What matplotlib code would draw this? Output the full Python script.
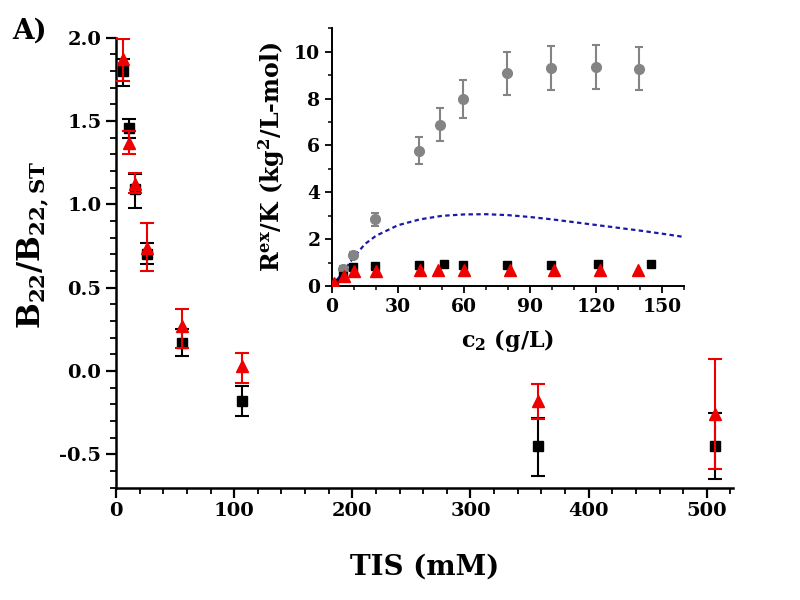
import matplotlib
matplotlib.use('Agg')
import matplotlib.pyplot as plt
from matplotlib.ticker import MultipleLocator

plt.rcParams['font.family'] = 'DejaVu Serif'
plt.rcParams['font.weight'] = 'bold'
plt.rcParams['mathtext.fontset'] = 'dejavuserif'
plt.rcParams['mathtext.default'] = 'bf'

# main panel: B22 / B22,ST vs TIS
tis = [6, 11, 16, 26, 56, 107, 357, 507]
blk_y = [1.80, 1.46, 1.09, 0.70, 0.17, -0.18, -0.45, -0.45]
blk_lo = [0.09, 0.06, 0.11, 0.06, 0.08, 0.09, 0.18, 0.20]
blk_hi = [0.07, 0.05, 0.09, 0.07, 0.08, 0.09, 0.17, 0.20]
red_y = [1.87, 1.37, 1.12, 0.74, 0.27, 0.03, -0.18, -0.26]
red_lo = [0.13, 0.07, 0.05, 0.14, 0.13, 0.10, 0.11, 0.33]
red_hi = [0.12, 0.07, 0.07, 0.15, 0.10, 0.08, 0.10, 0.33]

# inset: Rex/K vs c2
c_gray = [5, 9.5, 19.5, 39.5, 49, 59.5, 79.5, 99.5, 120, 139.5]
gray_y = [0.74, 1.34, 2.85, 5.77, 6.89, 7.98, 9.07, 9.29, 9.36, 9.28]
gray_err = [0.10, 0.12, 0.27, 0.57, 0.70, 0.80, 0.91, 0.93, 0.94, 0.93]
c_blk = [1, 5, 9.7, 19.5, 39.5, 51, 59.6, 79.5, 99.5, 121, 145]
blk_r = [0.15, 0.45, 0.82, 0.84, 0.90, 0.95, 0.91, 0.91, 0.92, 0.95, 0.95]
c_red = [1, 5.5, 10, 20, 40, 48.4, 60, 81, 101, 122, 139]
red_r = [0.15, 0.45, 0.65, 0.65, 0.68, 0.68, 0.68, 0.68, 0.68, 0.68, 0.68]
c_fit = [0, 5, 10, 15, 20, 30, 40, 50, 60, 70, 80, 90, 100, 110, 120, 130, 140, 150, 160]
fit_y = [0, 0.6, 1.25, 1.8, 2.15, 2.6, 2.85, 3.0, 3.06, 3.07, 3.03, 2.95, 2.85, 2.73, 2.61, 2.49, 2.37, 2.24, 2.1]

fig = plt.figure(figsize=(8, 6), dpi=100)
ax = fig.add_axes([0.145, 0.187, 0.771, 0.75])

ax.errorbar(tis, blk_y, yerr=[blk_lo, blk_hi], fmt='s', color='black', ms=7,
            capsize=5, elinewidth=1.5, capthick=1.5, zorder=3)
ax.errorbar(tis, red_y, yerr=[red_lo, red_hi], fmt='^', color='#ee0000', ms=9,
            capsize=5, elinewidth=1.5, capthick=1.5, zorder=4)

ax.set_xlim(0, 522)
ax.set_ylim(-0.7, 2.0)
ax.xaxis.set_major_locator(MultipleLocator(100))
ax.xaxis.set_minor_locator(MultipleLocator(20))
ax.yaxis.set_minor_locator(MultipleLocator(0.1))
ax.set_yticks([-0.5, 0.0, 0.5, 1.0, 1.5, 2.0])
ax.set_yticklabels(['-0.5', '0.0', '0.5', '1.0', '1.5', '2.0'])
for s in ['top', 'right']:
    ax.spines[s].set_visible(False)
for s in ['left', 'bottom']:
    ax.spines[s].set_linewidth(1.8)
ax.tick_params(which='major', length=7, width=1.6, labelsize=14, direction='out')
ax.tick_params(which='minor', length=4, width=1.3, direction='out')
ax.set_xlabel('TIS (mM)', fontsize=20, fontweight='bold', labelpad=24)
ax.set_ylabel(r'B$_{22}$/B$_{22,ST}$', fontsize=22, fontweight='bold')
ax.yaxis.set_label_coords(-0.106, 0.54)
fig.text(0.015, 0.935, 'A)', fontsize=20, fontweight='bold')

# inset
ins = fig.add_axes([0.415, 0.523, 0.44, 0.43])
ins.plot(c_fit, fit_y, linestyle=(0, (2, 1.5)), color='#1a1aaa', lw=1.6, zorder=2)
ins.errorbar(c_gray, gray_y, yerr=gray_err, fmt='o', color='#848484', ms=7,
             capsize=3, elinewidth=1.5, capthick=1.5, zorder=3)
ins.plot(c_blk, blk_r, 's', color='black', ms=6, zorder=4)
ins.plot(c_red, red_r, '^', color='#ee0000', ms=8, zorder=5)

ins.set_xlim(0, 160)
ins.set_ylim(0, 11)
ins.xaxis.set_major_locator(MultipleLocator(30))
ins.xaxis.set_minor_locator(MultipleLocator(10))
ins.yaxis.set_major_locator(MultipleLocator(2))
ins.yaxis.set_minor_locator(MultipleLocator(1))
for s in ['top', 'right']:
    ins.spines[s].set_visible(False)
for s in ['left', 'bottom']:
    ins.spines[s].set_linewidth(1.4)
ins.tick_params(which='major', length=5, width=1.3, labelsize=13.5, direction='out')
ins.tick_params(which='minor', length=3, width=1.1, direction='out')
ins.set_xlabel(r'c$_2$ (g/L)', fontsize=16, fontweight='bold', labelpad=8)
ins.set_ylabel(r'R$^{ex}$/K (kg$^2$/L-mol)', fontsize=17, fontweight='bold', labelpad=5)

fig.savefig('out.png', dpi=100)
